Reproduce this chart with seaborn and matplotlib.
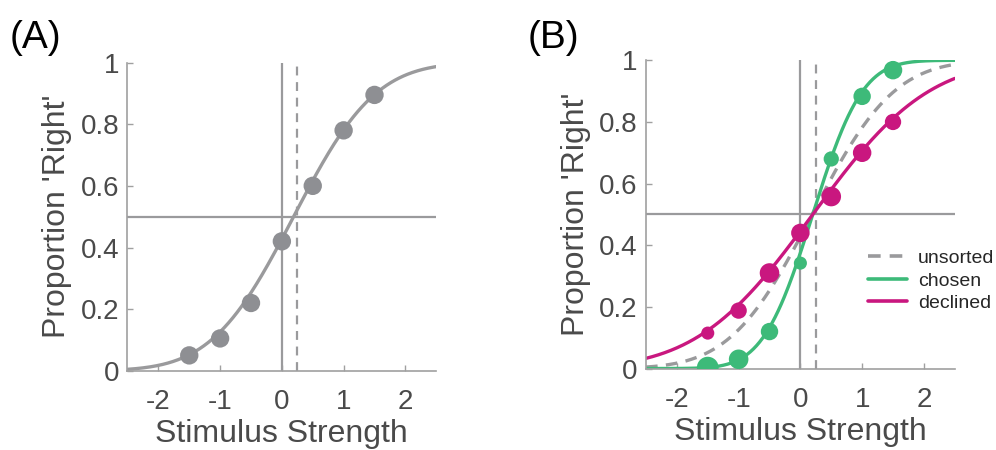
import math
import numpy as np
import pandas as pd
import matplotlib
matplotlib.use("Agg")
import matplotlib.pyplot as plt
import seaborn as sns

# stimulus levels and observed proportions
stim = [-1.5, -1.0, -0.5, 0.0, 0.5, 1.0, 1.5]
p_all = [0.05, 0.105, 0.22, 0.42, 0.60, 0.78, 0.895]
p_chosen = [0.003, 0.03, 0.12, 0.342, 0.68, 0.883, 0.968]
p_declined = [0.115, 0.188, 0.31, 0.44, 0.558, 0.70, 0.80]
# relative trial counts (marker area)
n_chosen = [400, 324, 256, 144, 196, 256, 289]
n_declined = [144, 225, 324, 289, 324, 289, 225]

# cumulative-gaussian fit parameters (bias, spread)
fit_names = ["unsorted", "chosen", "declined"]
fit_mu = [0.19, 0.2, 0.2]
fit_sigma = [1.04, 0.63, 1.47]
pse_line = 0.25

GRAY = "#9a9a9c"
GRAY_PT = "#8e8f93"
GREEN = "#3dba79"
MAGENTA = "#c9177f"
TXT = "#4a4a4a"

sns.set_theme(style="white")
plt.rcParams["font.family"] = ["Liberation Sans", "DejaVu Sans"]


def psych(x, mu, sigma):
    return np.array([0.5 * (1 + math.erf((v - mu) / (sigma * math.sqrt(2)))) for v in x])


xs = np.linspace(-2.5, 2.5, 300)
curves = pd.concat([
    pd.DataFrame({"x": xs, "y": psych(xs, m, s), "cond": n})
    for n, m, s in zip(fit_names, fit_mu, fit_sigma)
])

fig = plt.figure(figsize=(9.96, 4.5), dpi=100)
axA = fig.add_axes([0.128, 0.176, 0.31, 0.685])
axB = fig.add_axes([0.6486, 0.181, 0.31, 0.685])


def style(ax):
    ax.set_xlim(-2.5, 2.5)
    ax.set_ylim(0, 1)
    ax.axhline(0.5, color=GRAY, lw=1.6, zorder=1)
    ax.axvline(0, color=GRAY, lw=1.6, zorder=1)
    ax.axvline(pse_line, color=GRAY, lw=1.6, ls=(0, (4, 3)), zorder=1)
    ax.set_xticks([-2, -1, 0, 1, 2])
    ax.set_xticklabels(["-2", "-1", "0", "1", "2"])
    ax.set_yticks([0, 0.2, 0.4, 0.6, 0.8, 1])
    ax.set_yticklabels(["0", "0.2", "0.4", "0.6", "0.8", "1"])
    ax.tick_params(direction="in", length=4, width=1, color="#a0a0a0",
                   labelsize=20, labelcolor=TXT, left=True, bottom=True)
    ax.tick_params(axis="y", pad=6)
    ax.tick_params(axis="x", pad=13)
    for sp in ["top", "right"]:
        ax.spines[sp].set_visible(False)
    for sp in ["left", "bottom"]:
        ax.spines[sp].set_color("#a0a0a0")
        ax.spines[sp].set_linewidth(1.2)


def labels(ax):
    ax.set_xlabel("Stimulus Strength", fontsize=23, color=TXT, labelpad=3)
    ax.set_ylabel("Proportion 'Right'", fontsize=23, color=TXT, labelpad=6)


# panel A
style(axA)
sns.lineplot(data=curves[curves.cond == "unsorted"], x="x", y="y", color=GRAY,
             lw=2.4, ax=axA, zorder=2)
sns.scatterplot(x=stim, y=p_all, color=GRAY_PT, s=175, edgecolor="none",
                ax=axA, zorder=3)
labels(axA)

# panel B
style(axB)
sns.lineplot(data=curves, x="x", y="y", hue="cond", style="cond",
             palette={"unsorted": GRAY, "chosen": GREEN, "declined": MAGENTA},
             dashes={"unsorted": (3.5, 2.5), "chosen": "", "declined": ""},
             lw=2.4, ax=axB, zorder=2)
pts = pd.DataFrame({
    "x": stim * 2,
    "y": p_chosen + p_declined,
    "n": n_chosen + n_declined,
    "cond": ["chosen"] * 7 + ["declined"] * 7,
})
sns.scatterplot(data=pts, x="x", y="y", hue="cond", size="n",
                palette={"chosen": GREEN, "declined": MAGENTA},
                sizes=(62, 245), size_norm=(100, 400),
                edgecolor="none", legend=False, ax=axB, zorder=3)
labels(axB)
handles, names = axB.get_legend_handles_labels()
leg = axB.legend(handles[:3], names[:3], loc="center left",
                 bbox_to_anchor=(0.72, 0.285), frameon=False,
                 prop={"family": "Liberation Sans", "size": 14},
                 handlelength=2.0, handletextpad=0.55, labelspacing=0.25,
                 borderaxespad=0, borderpad=0)
for h in leg.get_lines():
    h.set_linewidth(2.6)

fig.text(0.01, 0.893, "(A)", fontsize=28, color="black")
fig.text(0.530, 0.893, "(B)", fontsize=28, color="black")

fig.savefig("out.png", dpi=100)
